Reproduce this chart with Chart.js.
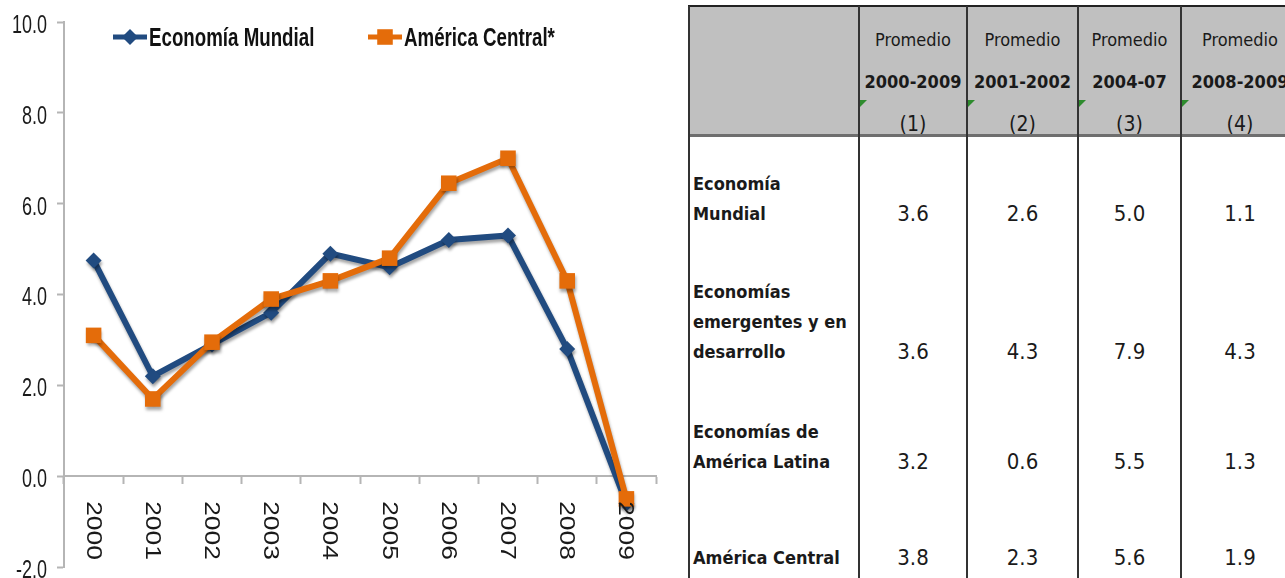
<!DOCTYPE html>
<html>
<head>
<meta charset="utf-8">
<script src="https://cdn.jsdelivr.net/npm/chart.js@4.4.1/dist/chart.umd.min.js"></script>
<style>
  body { margin: 0; width: 1285px; height: 578px; overflow: hidden; background: #fff; }
  #wrap { position: absolute; left: 0; top: 0; width: 667px; height: 578px; }
  #tabla { position: absolute; left: 688px; top: 0; width: 620px; height: 578px;
    font-family: "DejaVu Sans Condensed", "DejaVu Sans", sans-serif; font-stretch: condensed; color: #1a1a1a; }
  .cell { position: absolute; text-align: center; white-space: nowrap; }
  .vline { position: absolute; top: 6px; width: 2px; height: 572px; background: #333; }
  .tri { position: absolute; width: 0; height: 0; border-top: 7px solid #2e8b2e; border-right: 7px solid transparent; }
</style>
</head>
<body>
<div id="wrap"><canvas id="graph"></canvas></div>
<div id="tabla"></div>
<script>
// datos del gráfico
const years = ['2000', '2001', '2002', '2003', '2004', '2005', '2006', '2007', '2008', '2009']
const mundial = [4.75, 2.2, 2.9, 3.6, 4.9, 4.6, 5.2, 5.3, 2.8, -0.6]
const centroamerica = [3.1, 1.7, 2.95, 3.9, 4.3, 4.8, 6.45, 7.0, 4.3, -0.5]
const seriesNames = ['Economía Mundial', 'América Central*']

// datos de la tabla
const colTop = ['Promedio', 'Promedio', 'Promedio', 'Promedio']
const colPeriod = ['2000-2009', '2001-2002', '2004-07', '2008-2009']
const colNum = ['(1)', '(2)', '(3)', '(4)']
const rowLabels = [['Economía', 'Mundial'], ['Economías', 'emergentes y en', 'desarrollo'], ['Economías de', 'América Latina'], ['América Central']]
const rowValues = [['3.6', '2.6', '5.0', '1.1'], ['3.6', '4.3', '7.9', '4.3'], ['3.2', '0.6', '5.5', '1.3'], ['3.8', '2.3', '5.6', '1.9']]

const BLUE = '#214b80'
const ORANGE = '#e46c0a'
const sans = '"Liberation Sans", Arial, sans-serif'

// sombras de las series
const shadowPlugin = {
    id: 'shadow',
    beforeDatasetsDraw(chart) {
        const c = chart.ctx
        c.save()
        c.shadowColor = 'rgba(0,0,0,0.35)'
        c.shadowBlur = 3
        c.shadowOffsetX = 1
        c.shadowOffsetY = 3
    },
    afterDatasetsDraw(chart) {
        chart.ctx.restore()
    }
}

// etiquetas de los ejes (texto estrecho, x de arriba hacia abajo)
const axisLabelPlugin = {
    id: 'axislabels',
    afterDraw(chart) {
        const c = chart.ctx
        const xs = chart.scales.x
        const ys = chart.scales.y
        const y0 = ys.getPixelForValue(0)
        c.save()
        c.fillStyle = '#1a1a1a'
        c.font = '22px ' + sans
        c.textAlign = 'left'
        c.textBaseline = 'middle'
        years.forEach((lab, i) => {
            c.save()
            c.translate(xs.getPixelForValue(i) - 1, y0 + 25)
            c.rotate(Math.PI / 2)
            c.scale(1.2, 1)
            c.fillText(lab, 0, 0)
            c.restore()
        })
        c.font = '25px ' + sans
        c.textAlign = 'right'
        ys.ticks.forEach(t => {
            c.save()
            c.translate(ys.left + 47, ys.getPixelForValue(t.value) + 4)
            c.scale(0.72, 1)
            c.fillText(t.value.toFixed(1), 0, 0)
            c.restore()
        })
        c.restore()
    }
}

// leyenda dibujada dentro del área
const legendPlugin = {
    id: 'leyenda',
    afterDraw(chart) {
        const c = chart.ctx
        const pos = [113, 368]
        c.save()
        chart.data.datasets.forEach((ds, i) => {
            const x = pos[i], y = 37
            c.strokeStyle = ds.borderColor
            c.fillStyle = ds.borderColor
            c.lineWidth = 5
            c.beginPath()
            c.moveTo(x, y)
            c.lineTo(x + 34, y)
            c.stroke()
            Chart.helpers.drawPoint(c, { pointStyle: ds.pointStyle, radius: ds.pointRadius, rotation: 0, borderWidth: 0 }, x + 17, y)
            c.save()
            c.translate(x + 36, y + 2)
            c.scale(0.72, 1)
            c.fillStyle = '#111'
            c.font = 'bold 26px ' + sans
            c.textBaseline = 'middle'
            c.fillText(seriesNames[i], 0, 0)
            c.restore()
        })
        c.restore()
    }
}

document.addEventListener("DOMContentLoaded", function() {
    let context = document.querySelector("#graph").getContext('2d')
    new Chart(context, {
        type: 'line',
        data: {
            labels: years,
            datasets: [{
                label: seriesNames[0],
                data: mundial,
                borderColor: BLUE,
                backgroundColor: BLUE,
                borderWidth: 6,
                pointStyle: 'rectRot',
                pointRadius: 8,
                pointBorderWidth: 0,
                order: 1
            }, {
                label: seriesNames[1],
                data: centroamerica,
                borderColor: ORANGE,
                backgroundColor: ORANGE,
                borderWidth: 6,
                pointStyle: 'rect',
                pointRadius: 11,
                pointBorderWidth: 0,
                order: 0
            }]
        },
        options: {
            responsive: true,
            maintainAspectRatio: false,
            animation: false,
            layout: { padding: { top: 22, right: 10, bottom: 10, left: 0 } },
            plugins: {
                legend: { display: false },
                tooltip: { enabled: false }
            },
            scales: {
                x: {
                    offset: true,
                    position: { y: 0 },
                    ticks: { display: false },
                    grid: {
                        offset: true,
                        drawOnChartArea: false,
                        drawTicks: true,
                        tickLength: 7,
                        tickWidth: 2,
                        tickColor: '#b5b5b5'
                    },
                    border: { color: '#b5b5b5', width: 2 }
                },
                y: {
                    min: -2,
                    max: 10,
                    afterFit: function(scale) { scale.width = 64 },
                    ticks: { stepSize: 2, display: false },
                    grid: {
                        drawOnChartArea: false,
                        drawTicks: true,
                        tickLength: 7,
                        tickWidth: 2,
                        tickColor: '#b5b5b5'
                    },
                    border: { color: '#b5b5b5', width: 2 }
                }
            }
        },
        plugins: [shadowPlugin, axisLabelPlugin, legendPlugin]
    })

    // tabla
    const t = document.querySelector('#tabla')
    const colX = [0, 170, 278, 389, 492, 610]
    let html = '<div style="position:absolute;left:0;top:6px;width:620px;height:130px;background:#c0c0c0"></div>'
    html += '<div style="position:absolute;left:0;top:5px;width:620px;height:2px;background:#222"></div>'
    html += '<div style="position:absolute;left:0;top:134px;width:620px;height:3px;background:#6e6e6e"></div>'
    colX.slice(0, 5).forEach(x => { html += '<div class="vline" style="left:' + x + 'px"></div>' })
    for (let j = 0; j < 4; j++) {
        const l = colX[j + 1] + 2, w = colX[j + 2] - colX[j + 1] - 2
        html += '<div class="cell" style="left:' + l + 'px;width:' + w + 'px;top:28px;line-height:24px;font-size:18px">' + colTop[j] + '</div>'
        html += '<div class="cell" style="left:' + l + 'px;width:' + w + 'px;top:70px;line-height:24px;font-size:18px;font-weight:bold">' + colPeriod[j] + '</div>'
        html += '<div class="cell" style="left:' + l + 'px;width:' + w + 'px;top:111px;line-height:26px;font-size:21px">' + colNum[j] + '</div>'
        html += '<div class="tri" style="left:' + l + 'px;top:100px"></div>'
    }
    const rowCenters = [214, 352, 462, 558]
    rowLabels.forEach((lines, r) => {
        const bottom = 578 - (rowCenters[r] + 15)
        html += '<div style="position:absolute;left:5px;bottom:' + bottom + 'px;line-height:30px;font-size:18px;font-weight:bold;white-space:nowrap">' + lines.join('<br>') + '</div>'
        rowValues[r].forEach((v, j) => {
            const l = colX[j + 1] + 2, w = colX[j + 2] - colX[j + 1] - 2
            html += '<div class="cell" style="left:' + l + 'px;width:' + w + 'px;bottom:' + bottom + 'px;line-height:30px;font-size:22px">' + v + '</div>'
        })
    })
    t.innerHTML = html
})
</script>
</body>
</html>
